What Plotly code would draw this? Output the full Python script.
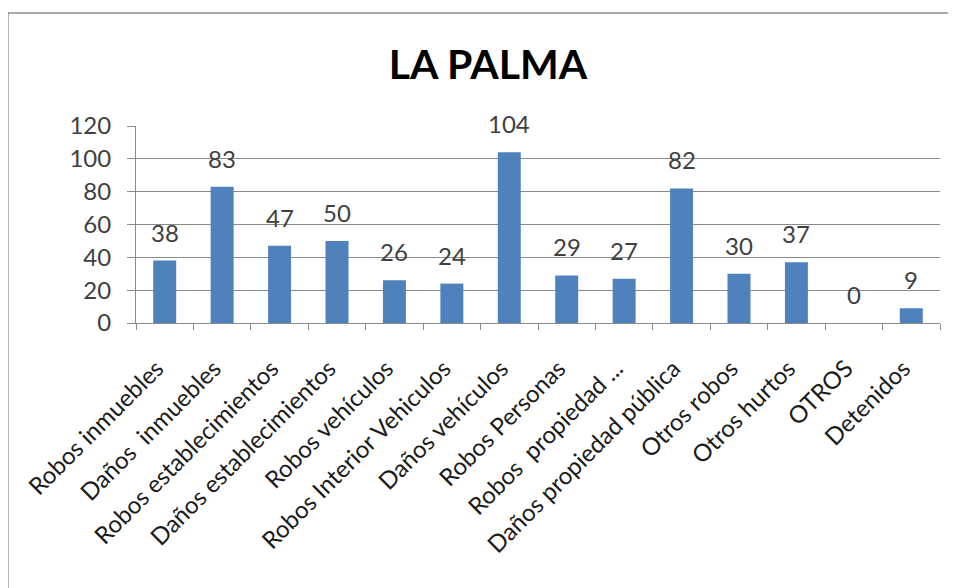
import plotly.graph_objects as go

categories = [
    "Robos inmuebles",
    "Daños \u00a0inmuebles",
    "Robos establecimientos",
    "Daños establecimientos",
    "Robos vehículos",
    "Robos Interior Vehiculos",
    "Daños vehículos",
    "Robos Personas",
    "Robos \u00a0propiedad ...",
    "Daños propiedad pública",
    "Otros robos",
    "Otros hurtos",
    "OTROS",
    "Detenidos",
]
values = [38, 83, 47, 50, 26, 24, 104, 29, 27, 82, 30, 37, 0, 9]
y_ticks = [0, 20, 40, 60, 80, 100, 120]

FONT = "Lato, 'Open Sans', sans-serif"
TXT = "#404040"
GRID = "#8a8a8a"

W, H = 956, 588
OFF = 8  # page offset of the rendered figure
L, R, T, B = 136 - OFF, 956 - (940 - OFF), 126 - OFF, 588 - (323 - OFF)

fig = go.Figure()
fig.add_trace(go.Bar(
    x=categories, y=values,
    marker=dict(color="#4F81BD", line=dict(width=0)),
    hoverinfo="x+y",
))

for c, v in zip(categories, values):
    fig.add_annotation(
        x=c, y=v, text=str(v), showarrow=False,
        xref="x", yref="y", yanchor="bottom", yshift=12,
        font=dict(family=FONT, size=24, color=TXT),
    )

pw = W - L - R
ph = H - T - B
def px_x(p):
    return (p - OFF - L) / pw
def px_y(p):
    return (H - B - (p - OFF)) / ph

fig.add_shape(
    type="rect", xref="paper", yref="paper",
    x0=px_x(8), x1=px_x(1010), y0=px_y(13), y1=px_y(620),
    line=dict(color="#8c8c8c", width=1.3), fillcolor="rgba(0,0,0,0)",
    layer="below",
)

fig.update_layout(
    width=W, height=H,
    margin=dict(l=L, r=R, t=T, b=B, autoexpand=False),
    paper_bgcolor="white", plot_bgcolor="white",
    bargap=0.6,
    showlegend=False,
    title=dict(
        text="<b>LA PALMA</b>", x=(488 - OFF) / W, xanchor="center",
        y=1 - (65 - OFF) / H, yanchor="middle", yref="container",
        font=dict(family=FONT, size=41, color="black"),
    ),
    font=dict(family=FONT, color=TXT),
    xaxis=dict(
        type="category",
        tickangle=-45,
        tickfont=dict(family=FONT, size=24, color="#1a1a1a"),
        showline=True, linecolor=GRID, linewidth=1,
        ticks="outside", tickson="boundaries", ticklen=6, tickcolor=GRID,
        showgrid=False,
        ticklabelstandoff=21,
        ticklabelshift=-8,
    ),
    yaxis=dict(
        range=[0, 120], tickvals=y_ticks,
        tickfont=dict(family=FONT, size=24, color=TXT),
        showline=True, linecolor=GRID, linewidth=1,
        ticks="outside", ticklen=8, tickcolor=GRID,
        showgrid=True, gridcolor=GRID, gridwidth=1,
        zeroline=False,
        ticklabelstandoff=11,
    ),
)

fig.write_html("out.html")
